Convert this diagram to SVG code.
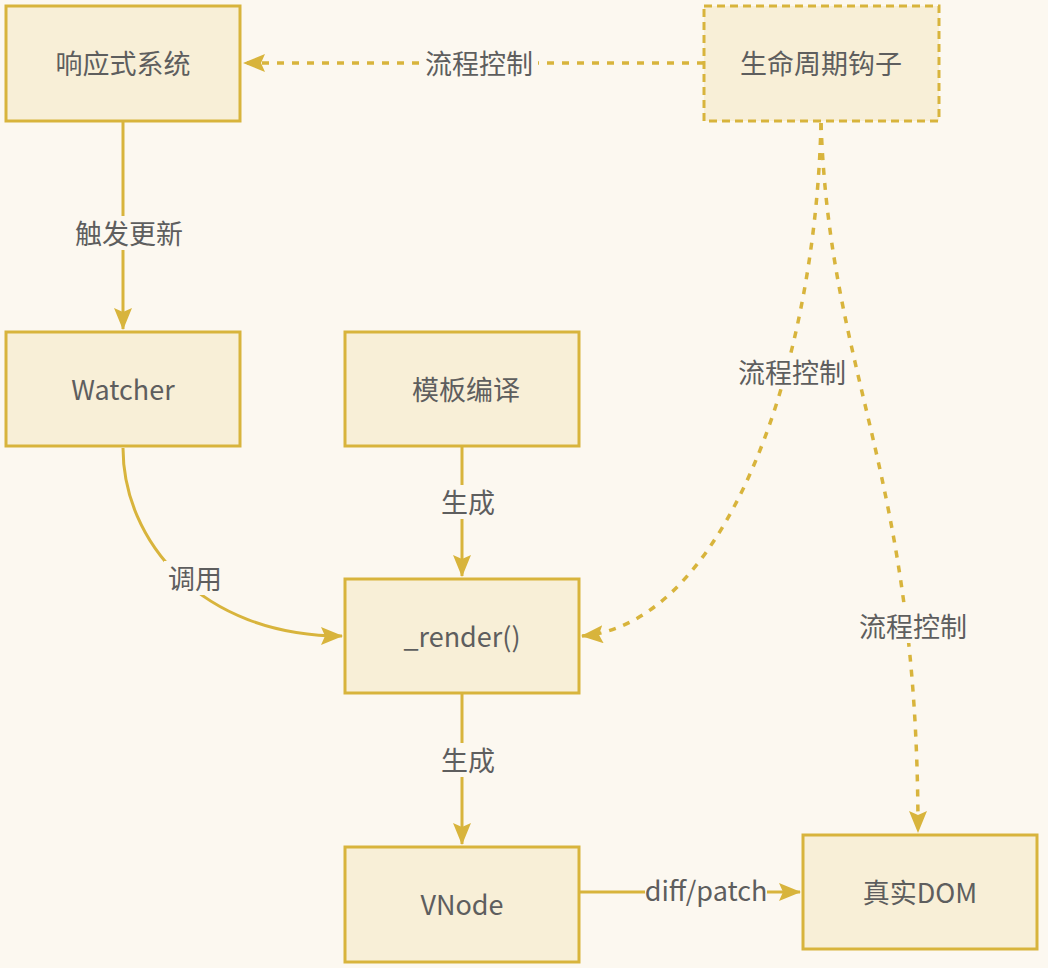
<svg xmlns="http://www.w3.org/2000/svg" width="1048" height="968" viewBox="0 0 1048 968">
<style>
.node rect{fill:#f8efd7;stroke:#d8b43c;stroke-width:3}
.node.dash rect{stroke-dasharray:8 5}
text{font-family:"Noto Sans CJK SC","Noto Sans",sans-serif;font-size:27px;fill:#5e5e5e;text-anchor:middle;dominant-baseline:central}
.edge{fill:none;stroke:#d8b43c;stroke-width:3}
.dashed{stroke-width:3.5;stroke-dasharray:7 8}
.lbl{fill:#fcf8f0}
</style>
<defs>
<marker id="ah" viewBox="0 0 22 18" refX="21" refY="9" markerWidth="22" markerHeight="18" orient="auto" markerUnits="userSpaceOnUse">
<path d="M0,0 L22,9 L0,18 L4,9 z" fill="#d8b43c"/>
</marker>
</defs>
<rect width="1048" height="968" fill="#fcf8f0"/>
<g id="connectors">
<path class="edge dashed" d="M704,63 L244,63" marker-end="url(#ah)"/>
<path class="edge" d="M123,121 L123,329" marker-end="url(#ah)"/>
<path class="edge" d="M123,448 C123,540 200,636 342,636" marker-end="url(#ah)"/>
<path class="edge" d="M462,446 L462,576" marker-end="url(#ah)"/>
<path class="edge" d="M462,693 L462,844" marker-end="url(#ah)"/>
<path class="edge" d="M579,892 L800,892" marker-end="url(#ah)"/>
<path class="edge dashed" d="M821,123 C815,380 720,625 582,636" marker-end="url(#ah)"/>
<path class="edge dashed" d="M821,123 C830,380 918,470 918,832" marker-end="url(#ah)"/>
<rect class="lbl" x="420" y="46" width="118" height="34"/>
<text x="479" y="62">流程控制</text>
<rect class="lbl" x="70" y="216" width="118" height="34"/>
<text x="129" y="232">触发更新</text>
<rect class="lbl" x="164" y="561" width="62" height="34"/>
<text x="195" y="577">调用</text>
<rect class="lbl" x="437" y="485" width="62" height="34"/>
<text x="468" y="501">生成</text>
<rect class="lbl" x="437" y="743" width="62" height="34"/>
<text x="468" y="759">生成</text>
<rect class="lbl" x="645" y="875" width="122" height="34"/>
<text x="706" y="889">diff/patch</text>
<rect class="lbl" x="734" y="355" width="116" height="34"/>
<text x="792" y="371">流程控制</text>
<rect class="lbl" x="855" y="609" width="116" height="34"/>
<text x="913" y="625">流程控制</text>
</g>
<g id="n_reactive" class="node"><rect x="6" y="6" width="234" height="115"/><text x="123" y="62">响应式系统</text></g>
<g id="n_lifecycle" class="node dash"><rect x="704" y="6" width="235" height="115"/><text x="821" y="62">生命周期钩子</text></g>
<g id="n_watcher" class="node"><rect x="6" y="332" width="234" height="114"/><text x="123" y="388">Watcher</text></g>
<g id="n_template" class="node"><rect x="345" y="332" width="234" height="114"/><text x="466" y="388">模板编译</text></g>
<g id="n_render" class="node"><rect x="345" y="579" width="234" height="114"/><text x="462" y="635">_render()</text></g>
<g id="n_vnode" class="node"><rect x="345" y="847" width="234" height="115"/><text x="462" y="903">VNode</text></g>
<g id="n_dom" class="node"><rect x="803" y="835" width="234" height="114"/><text x="920" y="891">真实DOM</text></g>
</svg>
